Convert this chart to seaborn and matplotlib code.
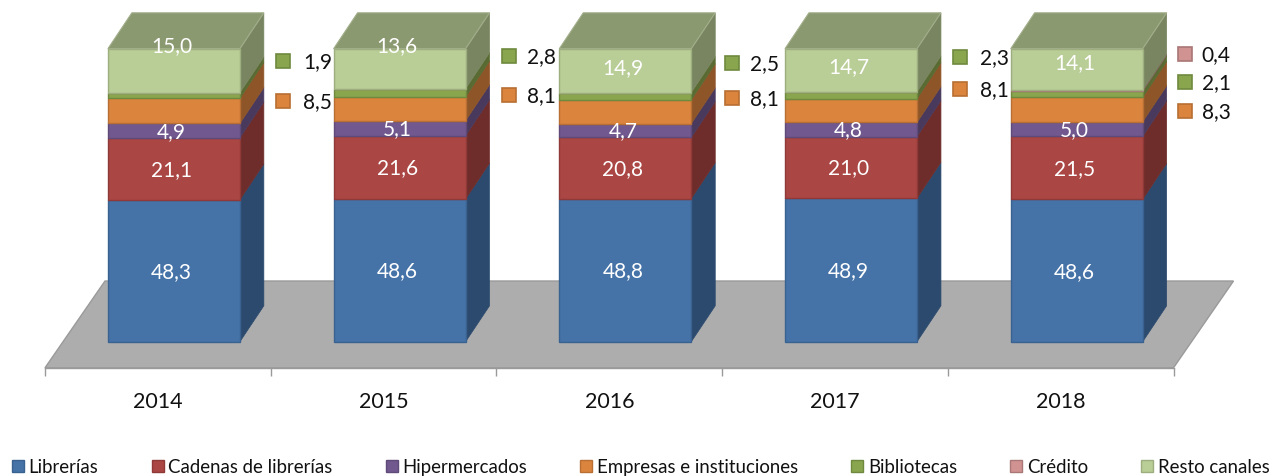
import numpy as np
import pandas as pd
import matplotlib
matplotlib.use("Agg")
import matplotlib.pyplot as plt
from matplotlib.patches import Patch
import seaborn as sns

years = ["2014", "2015", "2016", "2017", "2018"]
librerias = [48.3, 48.6, 48.8, 48.9, 48.6]
cadenas = [21.1, 21.6, 20.8, 21.0, 21.5]
hiper = [4.9, 5.1, 4.7, 4.8, 5.0]
empresas = [8.5, 8.1, 8.1, 8.1, 8.3]
bibliotecas = [1.9, 2.8, 2.5, 2.3, 2.1]
credito = [0.0, 0.0, 0.0, 0.0, 0.4]
resto = [15.0, 13.6, 14.9, 14.7, 14.1]

names = ["Librerías", "Cadenas de librerías", "Hipermercados",
         "Empresas e instituciones", "Bibliotecas", "Crédito", "Resto canales"]

sns.set_theme(style="white")
plt.rcParams["font.family"] = ["Lato", "DejaVu Sans"]

df = pd.DataFrame(dict(zip(names, [librerias, cadenas, hiper, empresas,
                                   bibliotecas, credito, resto])), index=years)
# the chart is a 100% stack, the rounded labels do not always add up
shares = df.div(df.sum(axis=1), axis=0) * 100

faces = ["#4572A7", "#AA4643", "#71588F", "#DB843D", "#89A54E", "#D19392", "#B9CD96"]
edges = ["#3A6291", "#8F3A38", "#5F4A79", "#B86F33", "#6F8A3E", "#A87776", "#9DAE7F"]
sides = ["#2C4A6E", "#6E2D2B", "#49395D", "#8E5528", "#596B32", "#886060", "#788560"]
top_color = "#8B9970"

W, H = 1272, 477
PX_X = 225.7    # pixels per category
PX_Y = 2.93     # pixels per percent
base_y = 342.8  # pixel row of 0 %
axis_y = 368.8
top_y = 10
shift = 16 / PX_X   # the bars sit right of the tick cell centre (3d depth)

fig = plt.figure(figsize=(W / 100, H / 100), dpi=100)
ax = fig.add_axes([45 / W, 1 - axis_y / H, 1128.5 / W, (axis_y - top_y) / H])
ax.patch.set_alpha(0)

bar_w = 132 / PX_X
depth_x = 24 / PX_X
depth_y = 36 / PX_Y
x_lo, x_hi = -0.5 - shift, 4.5 - shift
y_front = -(axis_y - base_y) / PX_Y

# floor of the 3d chart
y_back = (base_y - 282) / PX_Y
skew = 60 / PX_X
ax.fill([x_lo, x_lo + skew, x_hi + skew, x_hi], [y_front, y_back, y_back, y_front],
        color="#ADADAD", ec="#9A9A9A", lw=1, clip_on=False, zorder=1)

# stacked bars
bottom = np.zeros(len(years))
for name, face, edge, side in zip(names, faces, edges, sides):
    vals = shares[name].values
    sns.barplot(x=years, y=vals, bottom=bottom, color=face, saturation=1,
                width=bar_w, edgecolor=edge, linewidth=1, ax=ax, zorder=3)
    for i in range(len(years)):
        if vals[i] == 0:
            continue
        xr = i + bar_w / 2
        ax.fill([xr, xr + depth_x, xr + depth_x, xr],
                [bottom[i], bottom[i] + depth_y, bottom[i] + vals[i] + depth_y, bottom[i] + vals[i]],
                color=side, ec=side, lw=0.5, clip_on=False, zorder=2)
    bottom = bottom + vals

# top faces
for i in range(len(years)):
    xl = i - bar_w / 2
    ax.fill([xl, xl + depth_x, xl + bar_w + depth_x, xl + bar_w],
            [bottom[i], bottom[i] + depth_y, bottom[i] + depth_y, bottom[i]],
            color=top_color, ec="#A3AF8C", lw=0.8, clip_on=False, zorder=2)

ax.set_xlim(x_lo, x_hi)
ax.set_ylim(y_front, (base_y - top_y) / PX_Y)

# white labels inside the bars
cum = shares.cumsum(axis=1)
inside = [librerias, cadenas, hiper, resto]
inside_names = ["Librerías", "Cadenas de librerías", "Hipermercados", "Resto canales"]
resto_shift = [26, 24, 4, 4, 7]  # px up from centre, as placed in the original
for name, vals in zip(inside_names, inside):
    for i, v in enumerate(vals):
        y = cum[name].values[i] - shares[name].values[i] / 2
        if name == "Resto canales":
            y += resto_shift[i] / PX_Y
        ax.text(i - 0.01, y, f"{v:.1f}".replace(".", ","), color="white", fontsize=15,
                ha="center", va="center", zorder=6)

# outside labels with their colour key
key_x = [109.5, 109, 107, 109.5, 108]
text_x = [129, 127, 125, 129, 125]
outside_rows = {"Empresas e instituciones": [102, 96, 99, 90, 112],
                "Bibliotecas": [62, 57, 64, 58, 83],
                "Crédito": [None, None, None, None, 55]}
outside_vals = {"Empresas e instituciones": empresas, "Bibliotecas": bibliotecas, "Crédito": credito}
for name, rows in outside_rows.items():
    k = names.index(name)
    for i, row in enumerate(rows):
        if row is None:
            continue
        y = (base_y - row) / PX_Y
        ax.plot([i + key_x[i] / PX_X], [y], marker="s", ms=9.5, mfc=faces[k], mec=edges[k],
                mew=1.2, ls="none", clip_on=False, zorder=6)
        ax.text(i + text_x[i] / PX_X, y, f"{outside_vals[name][i]:.1f}".replace(".", ","),
                color="#111111", fontsize=15, ha="left", va="center", zorder=6)

# axes
sns.despine(ax=ax, left=True, top=True, right=True)
ax.spines["bottom"].set_color("#9A9A9A")
ax.spines["bottom"].set_linewidth(1)
ax.set_yticks([])
ax.set_xlabel("")
ax.set_ylabel("")
ax.set_xticks(np.arange(len(years)) - shift)
ax.set_xticklabels(years, fontsize=15.5, color="#111111")
ax.tick_params(axis="x", which="major", length=0, pad=17)
ax.set_xticks(np.arange(-0.5, 5, 1) - shift, minor=True)
ax.tick_params(axis="x", which="minor", length=6, width=1, color="#9A9A9A", bottom=True)

handles = [Patch(facecolor=f, edgecolor=e, label=n) for n, f, e in zip(names, faces, edges)]
fig.legend(handles=handles, ncol=7, frameon=False, fontsize=13.4, labelcolor="#111111",
           loc="center left", bbox_to_anchor=(12 / W, 1 - 468 / H),
           handlelength=0.65, handleheight=0.65, handletextpad=0.25, columnspacing=2.85,
           borderpad=0, borderaxespad=0)

fig.savefig("out.png", dpi=100)
plt.close(fig)
